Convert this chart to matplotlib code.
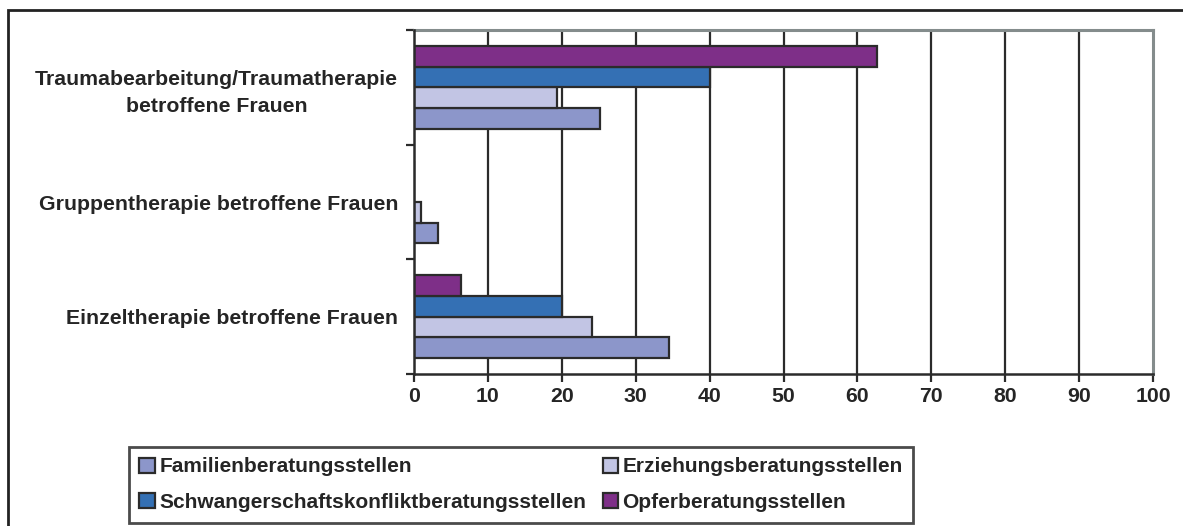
import matplotlib
matplotlib.use("Agg")
import matplotlib.pyplot as plt
import numpy as np
from matplotlib.patches import Rectangle

# Categories (bottom to top) and values per counselling service type (%)
categories = [
    "Einzeltherapie betroffene Frauen",
    "Gruppentherapie betroffene Frauen",
    "Traumabearbeitung/Traumatherapie\nbetroffene Frauen",
]
familien = [34.5, 3.3, 25.2]
erziehung = [24.1, 0.9, 19.4]
schwanger = [20.0, 0.0, 40.0]
opfer = [6.4, 0.0, 62.6]

series_names = [
    "Familienberatungsstellen",
    "Erziehungsberatungsstellen",
    "Schwangerschaftskonfliktberatungsstellen",
    "Opferberatungsstellen",
]
series_values = [familien, erziehung, schwanger, opfer]
colors = ["#8C96CA", "#C2C5E4", "#3470B4", "#7E2F88"]
xticks = [0, 10, 20, 30, 40, 50, 60, 70, 80, 90, 100]

plt.rcParams["font.family"] = ["Liberation Sans", "DejaVu Sans"]
plt.rcParams["font.weight"] = "bold"
text_color = "#252525"
edge = "#2b2b2b"
fs = 15.3
legend_fs = 15

W, H = 1183, 526
fig = plt.figure(figsize=(W / 100, H / 100), dpi=100)
fig.patch.set_facecolor("white")

ax = fig.add_axes([414 / W, 1 - 374 / H, (1153 - 414) / W, (374 - 30) / H])

y = np.arange(len(categories))
bar_h = 0.18
offsets = np.array([-1.5, -0.5, 0.5, 1.5]) * bar_h  # first series lowest
for name, vals, col, off in zip(series_names, series_values, colors, offsets):
    ax.barh(y + off, vals, height=bar_h, color=col, edgecolor=edge,
            linewidth=1.6, label=name, zorder=3)

ax.set_xlim(0, 100)
ax.set_ylim(-0.5, 2.5)
ax.set_xticks(xticks)
ax.set_xticklabels([str(t) for t in xticks], fontsize=fs, fontweight="bold",
                   color=text_color)
ax.set_yticks(y)
ax.set_yticklabels(categories, fontsize=fs, fontweight="bold",
                   color=text_color, multialignment="center",
                   linespacing=1.5)
ax.set_yticks(np.arange(-0.5, 3.0, 1.0), minor=True)
ax.tick_params(axis="y", which="major", length=0, pad=11.5)
ax.tick_params(axis="y", which="minor", length=6, width=1.6, color=edge)
ax.tick_params(axis="x", which="major", length=6, width=1.6, color=edge,
               pad=3)

for xv in xticks[1:-1]:
    ax.axvline(xv, color=edge, linewidth=1.6, zorder=1)

for side in ["left", "bottom"]:
    ax.spines[side].set_color(edge)
    ax.spines[side].set_linewidth(1.8)
    ax.spines[side].set_zorder(4)
for side in ["top", "right"]:
    ax.spines[side].set_color("#848c8c")
    ax.spines[side].set_linewidth(2.2)

# Legend: row 1 Familien / Erziehung, row 2 Schwanger / Opfer
handles, labels = ax.get_legend_handles_labels()
order = [0, 2, 1, 3]
leg = fig.legend([handles[i] for i in order], [labels[i] for i in order],
                 ncol=2, loc="upper left",
                 bbox_to_anchor=(129 / W, 1 - 447 / H),
                 fontsize=legend_fs, frameon=True, fancybox=False,
                 handlelength=0.75, handleheight=0.75, handletextpad=0.2,
                 columnspacing=0.8, borderpad=0.5, labelspacing=0.8,
                 borderaxespad=0)
leg.get_frame().set_edgecolor("#1e1e1e")
leg.get_frame().set_linewidth(2.0)
for t in leg.get_texts():
    t.set_color(text_color)
    t.set_fontweight("bold")

# Outer frame around the chart
fig.patches.append(Rectangle((8 / W, -0.05), 1.2, 1 - 10 / H + 0.05,
                             transform=fig.transFigure, fill=False,
                             edgecolor="#222222", linewidth=2.0))

fig.savefig("out.png", dpi=100, facecolor="white")
